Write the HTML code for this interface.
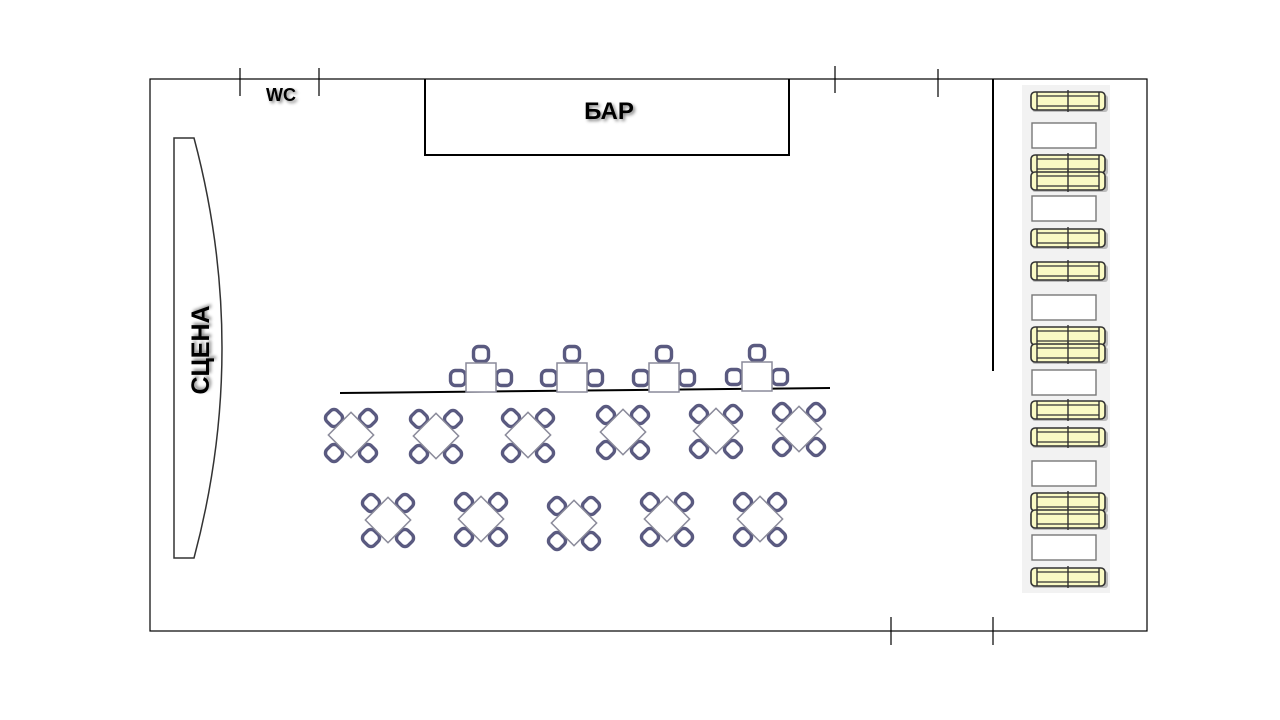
<!DOCTYPE html>
<html><head><meta charset="utf-8"><style>
html,body{margin:0;padding:0;background:#fff;}
svg{display:block;}
</style></head><body>
<svg width="1280" height="720" viewBox="0 0 1280 720" xmlns="http://www.w3.org/2000/svg">
<defs>
  <g id="chair"><rect x="-7.5" y="-7.5" width="15" height="15" rx="5" fill="#fff" stroke="#5a5a80" stroke-width="3.4"/></g>
  <g id="diam">
    <use href="#chair" transform="translate(-17,-17) rotate(45)"/>
    <use href="#chair" transform="translate(17,-17) rotate(45)"/>
    <use href="#chair" transform="translate(-17,18) rotate(45)"/>
    <use href="#chair" transform="translate(17,18) rotate(45)"/>
    <rect x="-16" y="-16" width="32" height="32" fill="#fff" stroke="#8a8a9a" stroke-width="1.5" transform="rotate(45)"/>
  </g>
  <g id="tri">
    <use href="#chair" transform="translate(0,-23)"/>
    <use href="#chair" transform="translate(-23,1)"/>
    <use href="#chair" transform="translate(23,1)"/>
    <rect x="-15" y="-14" width="30" height="29" fill="#fff" stroke="#8a8a9a" stroke-width="1.5"/>
  </g>
  <g id="sofa">
    <rect x="-36" y="-6" width="76" height="17" rx="3" fill="#999" opacity="0.6"/>
    <rect x="-37" y="-9" width="74" height="18" rx="4" fill="#fafac4" stroke="#333" stroke-width="1.6"/>
    <line x1="-31" y1="-5" x2="31" y2="-5" stroke="#333" stroke-width="1.2"/>
    <line x1="-31" y1="5" x2="31" y2="5" stroke="#333" stroke-width="1.2"/>
    <line x1="-31" y1="-9" x2="-31" y2="9" stroke="#333" stroke-width="1.4"/>
    <line x1="31" y1="-9" x2="31" y2="9" stroke="#333" stroke-width="1.4"/>
    <line x1="0" y1="-11" x2="0" y2="11" stroke="#333" stroke-width="1.4"/>
  </g>
  <g id="box"><rect x="-32" y="-12" width="64" height="25" fill="#fff" stroke="#777" stroke-width="1.4"/></g>
</defs>
<rect x="150" y="79" width="997" height="552" fill="none" stroke="#000" stroke-width="1.2"/>
<g stroke="#000" stroke-width="1.2">
  <line x1="240" y1="68" x2="240" y2="96"/><line x1="319" y1="68" x2="319" y2="96"/>
  <line x1="835" y1="66" x2="835" y2="93"/><line x1="938" y1="69" x2="938" y2="97"/>
  <line x1="891" y1="617" x2="891" y2="645"/><line x1="993" y1="617" x2="993" y2="645"/>
</g>
<line x1="993" y1="79" x2="993" y2="371" stroke="#000" stroke-width="2"/>
<path d="M425 79 V155 H789 V79" fill="none" stroke="#000" stroke-width="2"/>
<text x="609" y="119" text-anchor="middle" font-family="Liberation Sans, sans-serif" font-weight="bold" font-size="24" fill="#000" style="text-shadow:2px 2px 3px #888">БАР</text>
<text x="281" y="101" text-anchor="middle" font-family="Liberation Sans, sans-serif" font-weight="bold" font-size="18" fill="#000" style="text-shadow:2px 2px 3px #888">WC</text>
<path d="M174 138 H194 Q250 348 194 558 H174 Z" fill="#fff" stroke="#333" stroke-width="1.5"/>
<text transform="translate(209,350) rotate(-90)" text-anchor="middle" font-family="Liberation Sans, sans-serif" font-weight="bold" font-size="25" fill="#000" style="text-shadow:2px 2px 3px #888">СЦЕНА</text>
<line x1="340" y1="393" x2="830" y2="388" stroke="#000" stroke-width="2"/>
<use href="#tri" transform="translate(481,377)"/>
<use href="#tri" transform="translate(572,377)"/>
<use href="#tri" transform="translate(664,377)"/>
<use href="#tri" transform="translate(757,376)"/>
<use href="#diam" transform="translate(351,435)"/>
<use href="#diam" transform="translate(436,436)"/>
<use href="#diam" transform="translate(528,435)"/>
<use href="#diam" transform="translate(623,432)"/>
<use href="#diam" transform="translate(716,431)"/>
<use href="#diam" transform="translate(799,429)"/>
<use href="#diam" transform="translate(388,520)"/>
<use href="#diam" transform="translate(481,519)"/>
<use href="#diam" transform="translate(574,523)"/>
<use href="#diam" transform="translate(667,519)"/>
<use href="#diam" transform="translate(760,519)"/>
<rect x="1022" y="85" width="88" height="508" fill="#f2f2f2"/>
<use href="#sofa" transform="translate(1068,101)"/>
<use href="#box" transform="translate(1064,135)"/>
<use href="#sofa" transform="translate(1068,164)"/>
<use href="#sofa" transform="translate(1068,181)"/>
<use href="#box" transform="translate(1064,208)"/>
<use href="#sofa" transform="translate(1068,238)"/>
<use href="#sofa" transform="translate(1068,271)"/>
<use href="#box" transform="translate(1064,307)"/>
<use href="#sofa" transform="translate(1068,336)"/>
<use href="#sofa" transform="translate(1068,353)"/>
<use href="#box" transform="translate(1064,382)"/>
<use href="#sofa" transform="translate(1068,410)"/>
<use href="#sofa" transform="translate(1068,437)"/>
<use href="#box" transform="translate(1064,473)"/>
<use href="#sofa" transform="translate(1068,502)"/>
<use href="#sofa" transform="translate(1068,519)"/>
<use href="#box" transform="translate(1064,547)"/>
<use href="#sofa" transform="translate(1068,577)"/>
</svg>
</body></html>
